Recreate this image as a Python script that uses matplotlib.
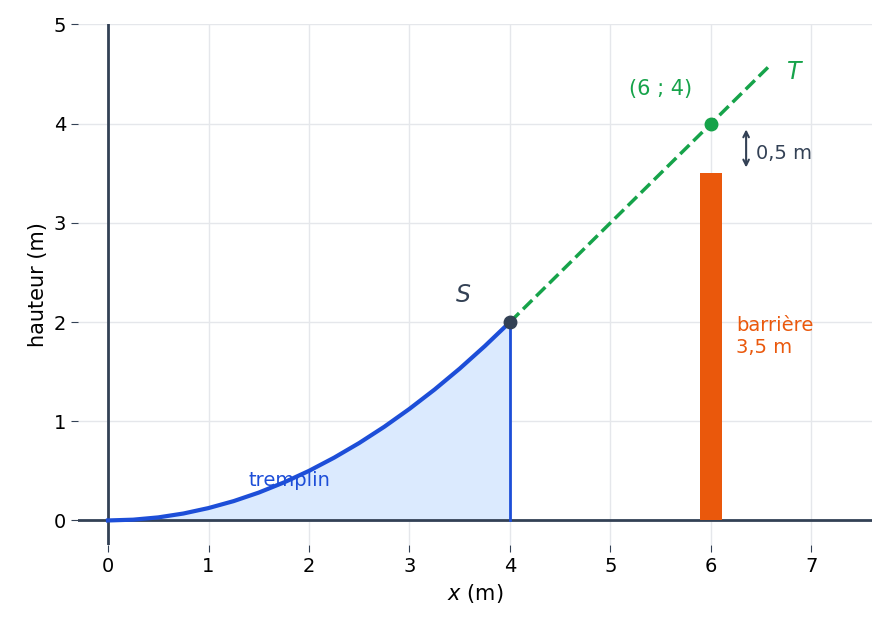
import matplotlib.pyplot as plt

# tremplin (parabole)
x_tremplin = [0, 0.25, 0.5, 0.75, 1, 1.25, 1.5, 1.75, 2, 2.25, 2.5, 2.75, 3, 3.25, 3.5, 3.75, 4]
y_tremplin = [0, 0.008, 0.031, 0.070, 0.125, 0.195, 0.281, 0.383, 0.5, 0.633, 0.781, 0.945,
              1.125, 1.320, 1.531, 1.758, 2.0]
# tangente T
x_tangente = [4, 6.6]
y_tangente = [2, 4.6]
point_S = (4, 2)
point_A = (6, 4)
barriere_x = 6
barriere_h = 3.5

dark = '#334155'
blue = '#1d4ed8'
green = '#16a34a'
orange = '#ea580c'

fig, ax = plt.subplots(figsize=(8.85, 6.43), dpi=100)
fig.subplots_adjust(left=0.088, right=0.985, top=0.962, bottom=0.152)

ax.fill_between(x_tremplin, y_tremplin, 0, color='#dbeafe', zorder=1)
ax.axhline(0, color=dark, lw=2, zorder=2)
ax.axvline(0, color=dark, lw=2, zorder=2)
ax.plot(x_tremplin, y_tremplin, color=blue, lw=3, zorder=3)
ax.plot([4, 4], [0, 2], color=blue, lw=2, zorder=3)
ax.plot(x_tangente, y_tangente, color=green, lw=2.5, ls='--', zorder=3)
ax.bar([barriere_x], [barriere_h], width=0.22, color=orange, zorder=2)

ax.plot(*point_S, 'o', color=dark, ms=9, zorder=4)
ax.plot(*point_A, 'o', color=green, ms=9, zorder=4)

ax.annotate('', xy=(6.35, 3.53), xytext=(6.35, 3.97),
            arrowprops=dict(arrowstyle='<->', color=dark, lw=1.5))
ax.text(6.45, 3.7, '0,5 m', color=dark, fontsize=14, va='center')
ax.text(5.5, 4.35, '(6 ; 4)', color=green, fontsize=15, ha='center', va='center')
ax.text(6.75, 4.45, '$T$', color=green, fontsize=17)
ax.text(3.45, 2.2, '$S$', color=dark, fontsize=17)
ax.text(1.4, 0.35, 'tremplin', color=blue, fontsize=14)
ax.text(6.25, 1.85, 'barrière\n3,5 m', color=orange, fontsize=14, va='center')

ax.set_xlim(-0.3, 7.6)
ax.set_ylim(-0.25, 5)
ax.set_xticks(range(0, 8))
ax.set_yticks(range(0, 6))
ax.tick_params(labelsize=14, colors='black', length=5, color=dark)
ax.grid(True, color='#e5e7eb', lw=1)
ax.set_axisbelow(True)
for s in ax.spines.values():
    s.set_visible(False)
ax.set_xlabel('$x$ (m)', fontsize=15)
ax.set_ylabel('hauteur (m)', fontsize=15)
plt.savefig('out.png')
